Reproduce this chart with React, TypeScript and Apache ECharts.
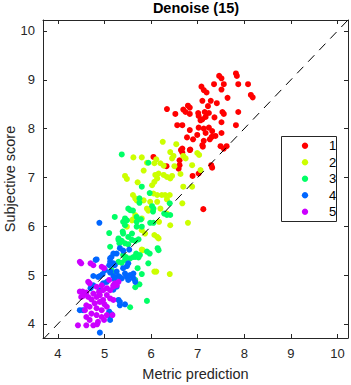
import React, { useEffect, useRef } from "react";
import * as echarts from "echarts";

const titleText = "Denoise (15)";
const xName = "Metric prediction";
const yName = "Subjective score";
const tickValues = [4, 5, 6, 7, 8, 9, 10];
const groupNames = ["1", "2", "3", "4", "5"];
const groupColors = ["#FF0000", "#CCFF00", "#00FF66", "#0066FF", "#CC00FF"];

const group1 = [[7.46,9.08],[7.51,9.03],[7.82,9.13],[7.84,9.08],[7.35,8.91],[7.56,8.91],[7.87,8.91],[8.08,8.91],[7.08,8.86],[7.13,8.79],[7.19,8.74],[7.51,8.80],[8.14,8.69],[8.18,8.64],[7.64,8.63],[7.10,8.57],[7.28,8.57],[7.41,8.52],[7.22,8.46],[6.79,8.47],[6.83,8.43],[6.34,8.40],[6.69,8.39],[6.74,8.34],[7.01,8.32],[7.15,8.34],[7.24,8.32],[7.53,8.34],[7.87,8.34],[6.52,8.30],[6.83,8.30],[7.02,8.26],[7.17,8.24],[7.56,8.30],[7.36,8.23],[7.06,8.17],[7.10,8.19],[7.51,8.13],[6.56,8.07],[6.67,8.07],[7.02,8.02],[7.13,8.00],[7.24,8.02],[7.82,8.07],[6.83,7.97],[7.31,7.95],[7.17,7.91],[7.51,7.91],[6.99,7.87],[7.30,7.83],[7.26,7.78],[6.77,7.82],[6.90,7.78],[7.13,7.75],[7.38,7.85],[7.10,7.66],[7.62,7.64],[7.49,7.64],[7.56,7.59],[6.67,7.59],[6.84,7.57],[7.11,7.63],[6.64,7.56],[6.67,7.51],[6.83,7.56],[6.61,7.35],[6.61,7.25],[6.59,7.18],[7.29,7.25],[7.31,7.20],[6.89,7.03],[7.02,7.08],[7.12,6.35],[6.05,7.42],[6.33,7.23]];
const group2 = [[6.25,7.73],[6.54,7.68],[5.62,7.41],[5.80,7.41],[5.91,7.30],[6.11,7.37],[6.07,7.29],[6.41,7.52],[6.48,7.44],[6.45,7.39],[6.27,7.24],[6.20,7.29],[6.69,7.44],[6.74,7.39],[6.99,7.50],[7.03,7.46],[6.88,7.25],[7.06,7.15],[5.84,7.14],[5.44,7.03],[5.48,6.97],[6.09,7.05],[6.16,7.08],[6.27,7.05],[6.34,7.01],[6.63,7.07],[6.07,6.91],[6.13,6.98],[6.41,6.98],[6.45,7.03],[5.71,6.90],[6.02,6.84],[6.69,6.81],[6.88,6.81],[5.61,6.64],[5.66,6.57],[5.69,6.53],[6.05,6.67],[6.13,6.64],[6.23,6.64],[6.30,6.64],[6.40,6.64],[6.34,6.55],[5.84,6.53],[5.98,6.50],[6.13,6.50],[6.67,6.47],[5.91,6.36],[5.94,6.32],[6.20,6.36],[6.34,6.26],[5.66,6.23],[5.59,6.12],[5.80,6.16],[6.17,6.09],[6.41,6.02],[6.79,6.07],[5.48,5.99],[5.80,5.92],[5.87,5.85],[6.13,5.78],[6.16,5.75],[6.07,5.82],[5.82,5.51],[6.07,5.07],[6.11,5.07],[6.40,5.02],[6.50,7.23],[5.61,6.14],[5.80,5.52]];
const group3 = [[5.37,7.47],[5.94,7.30],[5.80,6.81],[5.97,6.68],[5.75,6.57],[5.75,6.48],[6.40,6.47],[6.02,6.41],[6.05,6.36],[5.51,6.36],[5.55,6.33],[5.61,6.32],[6.04,6.30],[6.28,6.26],[6.34,6.23],[6.41,6.23],[5.22,6.19],[5.44,6.16],[5.48,6.12],[5.40,6.09],[5.69,6.19],[5.78,6.14],[5.69,6.09],[5.98,6.07],[6.05,6.07],[5.69,5.99],[5.80,5.99],[5.10,5.86],[5.39,5.89],[5.59,5.85],[5.51,5.78],[5.30,5.75],[5.37,5.70],[5.59,5.72],[5.66,5.70],[5.73,5.73],[5.44,5.65],[5.51,5.63],[5.12,5.58],[6.14,5.55],[5.68,5.44],[5.76,5.41],[5.62,5.37],[5.40,5.41],[5.46,5.37],[5.55,5.34],[5.66,5.37],[5.73,5.36],[5.91,5.48],[5.97,5.44],[6.16,5.51],[5.94,5.24],[5.30,5.27],[5.37,5.25],[5.44,5.31],[5.71,5.14],[5.80,5.02],[5.66,4.90],[5.75,4.81],[5.66,4.75],[5.91,4.47],[5.55,4.34],[5.15,5.10],[5.19,5.05],[5.40,5.85],[5.44,6.02],[5.30,5.72],[5.32,5.65]];
const group4 = [[4.89,6.07],[4.81,5.31],[5.15,5.37],[5.19,5.44],[5.10,5.20],[5.19,5.24],[5.01,5.10],[4.96,5.02],[4.90,4.98],[5.12,5.05],[5.19,4.98],[5.22,4.91],[5.30,4.98],[5.37,4.93],[5.48,4.96],[5.51,4.90],[5.05,4.86],[4.97,4.83],[4.76,4.79],[4.70,4.73],[4.90,4.69],[5.19,4.70],[5.26,4.76],[5.33,4.45],[5.44,4.40],[5.33,4.38],[5.10,4.25],[5.15,4.20],[5.12,4.08],[4.54,4.28],[4.90,3.82],[5.12,5.34],[5.26,5.44],[5.48,5.18],[5.51,5.24],[5.30,4.49],[5.62,4.93],[5.66,4.86],[5.62,5.03],[5.08,4.18],[5.40,5.50],[5.53,5.52],[5.33,5.55],[4.83,5.32],[5.12,5.27],[5.22,5.20],[5.13,5.07],[5.26,5.07],[5.40,5.14],[5.44,5.03],[5.33,4.96],[4.86,4.96],[4.76,4.98],[5.55,5.00],[4.47,4.28]];
const group5 = [[4.70,5.24],[4.76,5.20],[4.94,5.17],[4.99,5.14],[5.10,4.90],[4.65,4.86],[4.68,4.83],[4.83,4.76],[4.94,4.79],[5.05,4.73],[5.12,4.69],[4.97,4.69],[4.53,4.66],[4.61,4.64],[4.54,4.57],[4.65,4.55],[4.76,4.62],[4.83,4.55],[4.90,4.59],[5.05,4.59],[5.12,4.52],[5.19,4.49],[4.97,4.49],[4.90,4.45],[4.79,4.42],[4.61,4.38],[4.68,4.35],[4.58,4.28],[4.83,4.32],[4.94,4.28],[5.05,4.35],[4.72,4.21],[4.83,4.18],[4.94,4.14],[5.05,4.18],[4.99,4.08],[4.61,4.14],[4.68,4.08],[4.43,3.97],[4.61,3.97],[4.76,3.97],[4.86,4.04],[4.84,3.99],[5.22,4.83],[5.30,4.86],[5.19,4.79],[4.47,5.27],[4.50,5.24],[4.47,4.66],[4.54,4.62],[4.50,4.55],[5.19,4.76],[5.26,4.79],[5.17,4.18],[4.72,4.50],[4.88,4.65],[5.00,4.40]];
const groups = [group1, group2, group3, group4, group5];

const xMin = 3.68;
const xMax = 10.225;
const yMin = 3.71;
const yMax = 10.225;
const diagonal = [[3.68, 3.68], [10.225, 10.225]];

const FONT = "'Liberation Sans', Arial, Helvetica, sans-serif";
const AX = "#262626";

function makeAxis(min: number, max: number, position: string, main: boolean, name: string, nameGap: number, labelMargin: number) {
  return {
    type: "value",
    min,
    max,
    position,
    name: main ? name : undefined,
    nameLocation: "middle",
    nameGap,
    nameMoveOverlap: false,
    nameTextStyle: { fontSize: 14.5, color: AX, fontFamily: FONT },
    axisLine: { show: true, onZero: false, lineStyle: { color: AX, width: 1 } },
    axisTick: { show: true, inside: true, length: 4, customValues: tickValues, lineStyle: { color: AX, width: 1 } },
    axisLabel: { show: main, customValues: tickValues, fontSize: 13, color: AX, fontFamily: FONT, margin: labelMargin },
    splitLine: { show: false },
  };
}

// legend box layout (chrome only)
const LEG_X = 281;
const LEG_Y = 136;
const LEG_W = 55;
const LEG_H = 85;
const LEG_ROW0 = 145.7;
const LEG_ROW_STEP = 16.5;

export default function App() {
  const ref = useRef<HTMLDivElement>(null);
  useEffect(() => {
    document.body.style.margin = "0";
    const chart = echarts.init(ref.current!, null, { renderer: "svg" });
    const scatterSeries = groups.map((g, i) => ({
      name: groupNames[i],
      type: "scatter",
      data: g,
      symbol: "circle",
      symbolSize: 6,
      itemStyle: { color: groupColors[i], opacity: 1 },
      xAxisIndex: 0,
      yAxisIndex: 0,
      silent: true,
    }));
    const legendChildren: any[] = [
      {
        type: "rect",
        shape: { x: LEG_X + 0.5, y: LEG_Y + 0.5, width: LEG_W, height: LEG_H },
        style: { fill: "#fff", stroke: AX, lineWidth: 1 },
      },
    ];
    groupNames.forEach((n, i) => {
      const cy = LEG_ROW0 + i * LEG_ROW_STEP;
      legendChildren.push({
        type: "circle",
        shape: { cx: 305, cy, r: 3.2 },
        style: { fill: groupColors[i] },
      });
      legendChildren.push({
        type: "text",
        x: 329,
        y: cy,
        style: { text: n, fontSize: 13, fill: "#000", fontFamily: FONT, align: "left", verticalAlign: "middle" },
      });
    });
    chart.setOption({
      animation: false,
      backgroundColor: "#ffffff",
      title: {
        text: titleText,
        left: 196,
        top: 0,
        textAlign: "center",
        padding: 0,
        textStyle: { fontSize: 14.5, fontWeight: "bold", color: "#000", fontFamily: FONT },
      },
      grid: { left: 43, right: 3, top: 20, bottom: 47, containLabel: false, outerBoundsMode: "none" },
      xAxis: [
        makeAxis(xMin, xMax, "bottom", true, xName, 28, 9),
        makeAxis(xMin, xMax, "top", false, "", 0, 0),
      ],
      yAxis: [
        makeAxis(yMin, yMax, "left", true, yName, 26, 8),
        makeAxis(yMin, yMax, "right", false, "", 0, 0),
      ],
      graphic: [{ type: "group", z: 100, silent: true, children: legendChildren }],
      series: [
        ...scatterSeries,
        {
          name: "diag",
          type: "line",
          data: diagonal,
          symbol: "none",
          silent: true,
          z: 10,
          lineStyle: { color: "#000", width: 1, type: [9, 7] },
        },
      ],
    });
    return () => chart.dispose();
  }, []);
  return <div ref={ref} style={{ position: "fixed", left: 0, top: 0, width: 351, height: 385 }} />;
}
